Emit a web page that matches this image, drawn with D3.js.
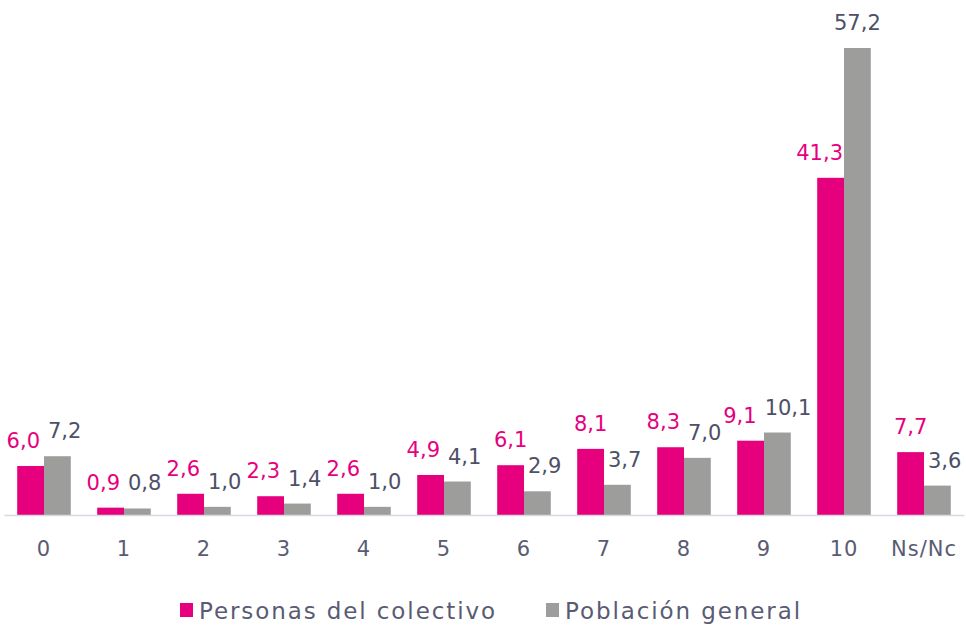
<!DOCTYPE html>
<html>
<head>
<meta charset="utf-8">
<script src="https://cdn.jsdelivr.net/npm/d3@7"></script>
<style>
  body { margin: 0; background: #fff; }
  text { font-family: "DejaVu Sans", "Noto Sans", sans-serif; }
</style>
</head>
<body>
<svg id="chart"></svg>
<script>
const w = 966;
const h = 627;

const categories = ["0", "1", "2", "3", "4", "5", "6", "7", "8", "9", "10", "Ns/Nc"];
const colectivo = [6.0, 0.9, 2.6, 2.3, 2.6, 4.9, 6.1, 8.1, 8.3, 9.1, 41.3, 7.7];
const general = [7.2, 0.8, 1.0, 1.4, 1.0, 4.1, 2.9, 3.7, 7.0, 10.1, 57.2, 3.6];
const seriesNames = ["Personas del colectivo", "Población general"];
const colors = ["#e6007e", "#9d9d9c"];
const labelColors = ["#e6007e", "#4d5066"];

const svg = d3.select("#chart").attr("width", w).attr("height", h);

const x = d3.scaleBand().domain(categories).range([4, 964]).paddingInner(0.33).paddingOuter(0.165);
const xs = d3.scaleBand().domain([0, 1]).range([0, x.bandwidth()]);
const y = d3.scaleLinear().domain([0, 57.2]).range([515, 48]);

const rows = categories.map((c, i) => ({ cat: c, vals: [colectivo[i], general[i]] }));

const groups = svg.selectAll("g.cat")
    .data(rows)
    .enter()
    .append("g")
    .attr("class", "cat")
    .attr("transform", d => "translate(" + x(d.cat) + ",0)");

groups.selectAll("rect")
    .data(d => d.vals)
    .enter()
    .append("rect")
    .attr("x", (d, i) => xs(i))
    .attr("width", xs.bandwidth())
    .attr("y", d => y(d))
    .attr("height", d => y(0) - y(d))
    .style("fill", (d, i) => colors[i]);

groups.selectAll("text")
    .data(d => d.vals)
    .enter()
    .append("text")
    .attr("x", (d, i) => xs(i) + xs.bandwidth() / 2)
    .attr("y", d => y(d) - 18)
    .attr("text-anchor", "middle")
    .style("font-size", "21px")
    .style("fill", (d, i) => labelColors[i])
    .text(d => d.toFixed(1).replace(".", ","));

// nudge labels apart (like the spreadsheet does) when they collide
const gap = 8;
groups.each(function(d) {
    const labels = d3.select(this).selectAll("text").nodes();
    const p = labels[0].getBBox();
    const g = labels[1].getBBox();
    let dp = 0, dg = 0;
    // pink label running into the grey bar
    const greyLeft = xs(1);
    if (p.x + p.width > greyLeft && p.y + p.height - 4 > y(d.vals[1])) {
        dp = greyLeft - 1 - (p.x + p.width);
    }
    // grey label running into the pink bar
    const pinkRight = xs(0) + xs.bandwidth();
    if (g.x < pinkRight + 4 && g.y + g.height - 4 > y(d.vals[0])) {
        dg = pinkRight + 4 - g.x;
    }
    // the two labels on top of each other
    const vOverlap = p.y < g.y + g.height - 4 && g.y < p.y + p.height - 4;
    const hOverlap = (p.x + p.width + dp + gap) - (g.x + dg);
    if (vOverlap && hOverlap > 0) {
        dp -= hOverlap / 2;
        dg += hOverlap / 2;
    }
    d3.select(labels[0]).attr("x", +labels[0].getAttribute("x") + dp);
    d3.select(labels[1]).attr("x", +labels[1].getAttribute("x") + dg);
});

// axis
const xAxis = d3.axisBottom(x).tickSize(0).tickPadding(26);
const axisG = svg.append("g")
    .attr("transform", "translate(0," + y(0) + ")")
    .call(xAxis);
axisG.select(".domain").attr("stroke", "#d9d9e3").attr("stroke-width", 1.5);
axisG.selectAll("text")
    .style("font-size", "21px")
    .style("letter-spacing", "1px")
    .style("fill", "#595b73")
    .style("font-family", "'DejaVu Sans', sans-serif");

// legend
const legendX = [180, 546];
const legend = svg.selectAll("g.legend")
    .data(seriesNames)
    .enter()
    .append("g")
    .attr("class", "legend")
    .attr("transform", (d, i) => "translate(" + legendX[i] + ",603)");

legend.append("rect")
    .attr("width", 13)
    .attr("height", 14)
    .style("fill", (d, i) => colors[i]);

legend.append("text")
    .attr("x", 19)
    .attr("y", 16)
    .style("font-size", "23px")
    .style("letter-spacing", "1.9px")
    .style("fill", "#595b73")
    .text(d => d);
</script>
</body>
</html>
